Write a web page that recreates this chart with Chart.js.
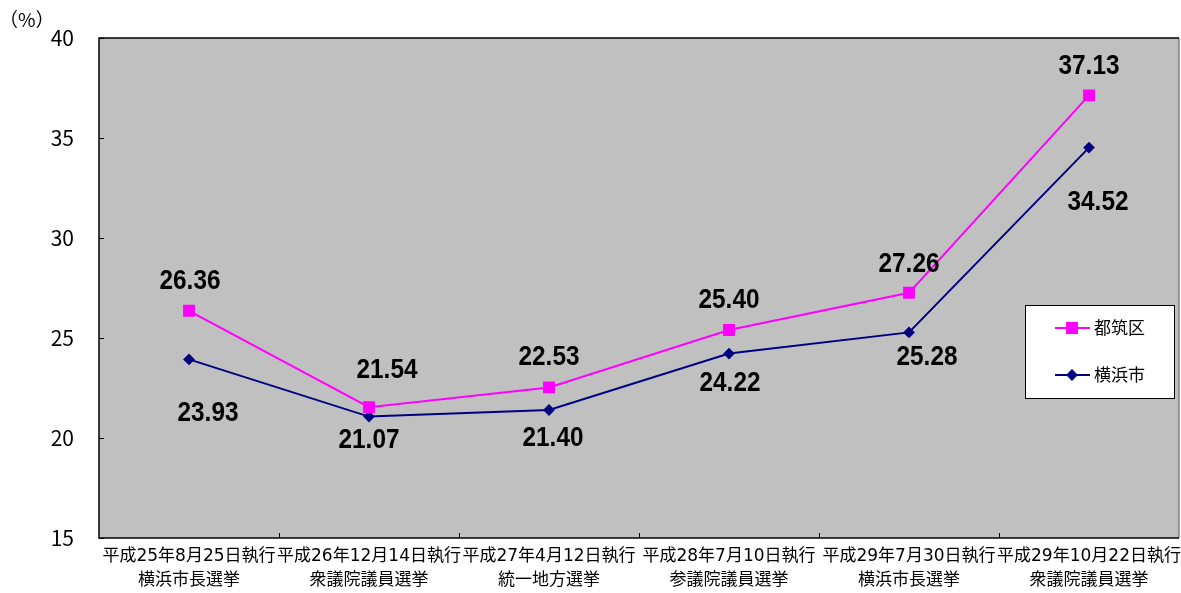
<!DOCTYPE html>
<html lang="ja">
<head>
<meta charset="utf-8">
<title>投票率の推移</title>
<script src="https://cdn.jsdelivr.net/npm/chart.js@4/dist/chart.umd.min.js"></script>
<style>
  html, body { margin: 0; padding: 0; background: #fff; overflow: hidden; }
  #wrap { position: relative; width: 1181px; height: 593px; }
</style>
</head>
<body>
<div id="wrap"><canvas id="chart"></canvas></div>
<script>
// election dates / names (two-line category labels)
const elections = [
  ['平成25年8月25日執行', '横浜市長選挙'],
  ['平成26年12月14日執行', '衆議院議員選挙'],
  ['平成27年4月12日執行', '統一地方選挙'],
  ['平成28年7月10日執行', '参議院議員選挙'],
  ['平成29年7月30日執行', '横浜市長選挙'],
  ['平成29年10月22日執行', '衆議院議員選挙']
];
const tsuzukiRates = [26.36, 21.54, 22.53, 25.40, 27.26, 37.13];
const yokohamaRates = [23.93, 21.07, 21.40, 24.22, 25.28, 34.52];
const yTicks = [15, 20, 25, 30, 35, 40];

// label nudges (px) so the numbers sit where the original put them
const tsuzukiLabelShift = [[1, -30], [18, -37], [0, -30], [0, -30], [0, -29], [0, -29]];
const yokohamaLabelShift = [[19, 54], [0, 24], [4, 28], [1, 30], [18, 25], [9, 55]];

const AXIS_FONT = '"Noto Sans CJK JP", "Noto Sans", sans-serif';
const XLABEL_FONT = '"DejaVu Sans", "Noto Sans CJK JP", sans-serif';
const LABEL_FONT = 'bold 28px "Liberation Sans", Arial, sans-serif';

const plotFrame = {
  id: 'plotFrame',
  beforeDraw(chart) {
    const { ctx, chartArea: a } = chart;
    ctx.save();
    ctx.fillStyle = '#C0C0C0';
    ctx.fillRect(a.left, a.top, a.right - a.left, a.bottom - a.top);
    ctx.restore();
  },
  afterDraw(chart) {
    const { ctx, chartArea: a, scales } = chart;
    ctx.save();
    ctx.lineWidth = 1.5;
    ctx.strokeStyle = '#808080';
    ctx.beginPath();
    ctx.moveTo(a.right, a.top);
    ctx.lineTo(a.right, a.bottom);
    ctx.stroke();
    ctx.strokeStyle = '#000';
    ctx.beginPath();
    ctx.moveTo(a.right, a.top);
    ctx.lineTo(a.left, a.top);
    ctx.lineTo(a.left, a.bottom);
    ctx.lineTo(a.right, a.bottom);
    ctx.stroke();
    // inner tick marks
    ctx.lineWidth = 1;
    ctx.beginPath();
    yTicks.forEach(v => {
      const y = Math.round(scales.y.getPixelForValue(v)) + 0.5;
      ctx.moveTo(a.left, y);
      ctx.lineTo(a.left + 5, y);
    });
    const step = (a.right - a.left) / elections.length;
    for (let i = 1; i < elections.length; i++) {
      const x = Math.round(a.left + step * i) + 0.5;
      ctx.moveTo(x, a.bottom);
      ctx.lineTo(x, a.bottom - 5);
    }
    ctx.stroke();
    // category labels, two lines each, centred under each category
    ctx.fillStyle = '#000';
    ctx.font = '17px ' + XLABEL_FONT;
    ctx.textAlign = 'center';
    ctx.textBaseline = 'middle';
    elections.forEach((lines, i) => {
      const x = scales.x.getPixelForValue(i);
      lines.forEach((t, j) => ctx.fillText(t, x, a.bottom + 19 + j * 24));
    });
    // unit
    ctx.font = '19px ' + AXIS_FONT;
    ctx.textAlign = 'left';
    ctx.fillText('（%）', -1, 20);
    ctx.restore();
  }
};

const pointLabels = {
  id: 'pointLabels',
  afterDatasetsDraw(chart) {
    const { ctx } = chart;
    const shifts = [tsuzukiLabelShift, yokohamaLabelShift];
    ctx.save();
    ctx.font = LABEL_FONT;
    ctx.fillStyle = '#000';
    ctx.textAlign = 'center';
    ctx.textBaseline = 'middle';
    chart.data.datasets.forEach((ds, di) => {
      chart.getDatasetMeta(di).data.forEach((pt, i) => {
        const [dx, dy] = shifts[di][i];
        ctx.save();
        ctx.translate(pt.x + dx, pt.y + dy);
        ctx.scale(0.87, 1);
        ctx.fillText(ds.data[i].toFixed(2), 0, 0);
        ctx.restore();
      });
    });
    ctx.restore();
  }
};

const boxLegend = {
  id: 'boxLegend',
  afterDraw(chart) {
    const { ctx } = chart;
    const box = { x: 1025, y: 305, w: 149, h: 93 };
    ctx.save();
    ctx.fillStyle = '#fff';
    ctx.fillRect(box.x, box.y, box.w, box.h);
    ctx.strokeStyle = '#000';
    ctx.lineWidth = 1;
    ctx.strokeRect(box.x + 0.5, box.y + 0.5, box.w, box.h);
    ctx.font = '17px ' + AXIS_FONT;
    ctx.textAlign = 'left';
    ctx.textBaseline = 'middle';
    chart.data.datasets.forEach((ds, i) => {
      const y = 328 + i * 47;
      ctx.strokeStyle = ds.borderColor;
      ctx.lineWidth = 2;
      ctx.beginPath();
      ctx.moveTo(1055, y);
      ctx.lineTo(1090, y);
      ctx.stroke();
      Chart.helpers.drawPoint(ctx, {
        pointStyle: ds.pointStyle,
        radius: ds.pointRadius,
        borderWidth: 1
      }, 1072, y);
      ctx.fillStyle = ds.pointBackgroundColor;
      ctx.fill();
      ctx.fillStyle = '#000';
      ctx.fillText(ds.label, 1094, y);
    });
    ctx.restore();
  }
};

new Chart(document.getElementById('chart'), {
  type: 'line',
  data: {
    labels: elections,
    datasets: [
      {
        label: '都筑区',
        data: tsuzukiRates,
        borderColor: '#FF00FF',
        backgroundColor: '#FF00FF',
        pointBackgroundColor: '#FF00FF',
        pointBorderColor: '#FF00FF',
        pointStyle: 'rect',
        pointRadius: 7,
        borderWidth: 2,
        tension: 0
      },
      {
        label: '横浜市',
        data: yokohamaRates,
        borderColor: '#000080',
        backgroundColor: '#000080',
        pointBackgroundColor: '#000080',
        pointBorderColor: '#000080',
        pointStyle: 'rectRot',
        pointRadius: 4.5,
        borderWidth: 2,
        tension: 0
      }
    ]
  },
  options: {
    responsive: true,
    maintainAspectRatio: false,
    animation: false,
    layout: { autoPadding: false, padding: { top: 38, right: 2, left: 0, bottom: 0 } },
    plugins: {
      legend: { display: false },
      tooltip: { enabled: false }
    },
    scales: {
      x: {
        type: 'category',
        offset: true,
        grid: { display: false, drawTicks: false },
        border: { display: false },
        ticks: { display: false },
        afterFit: (scale) => { scale.height = 55; }
      },
      y: {
        min: 15,
        max: 40,
        grid: { display: false, drawTicks: false },
        border: { display: false },
        ticks: {
          stepSize: 5,
          padding: 25,
          color: '#000',
          font: { family: AXIS_FONT, size: 21 }
        },
        afterFit: (scale) => {
          scale.width = 99;
          scale.paddingTop = 0;
          scale.paddingBottom = 0;
        }
      }
    }
  },
  plugins: [plotFrame, pointLabels, boxLegend]
});
</script>
</body>
</html>
